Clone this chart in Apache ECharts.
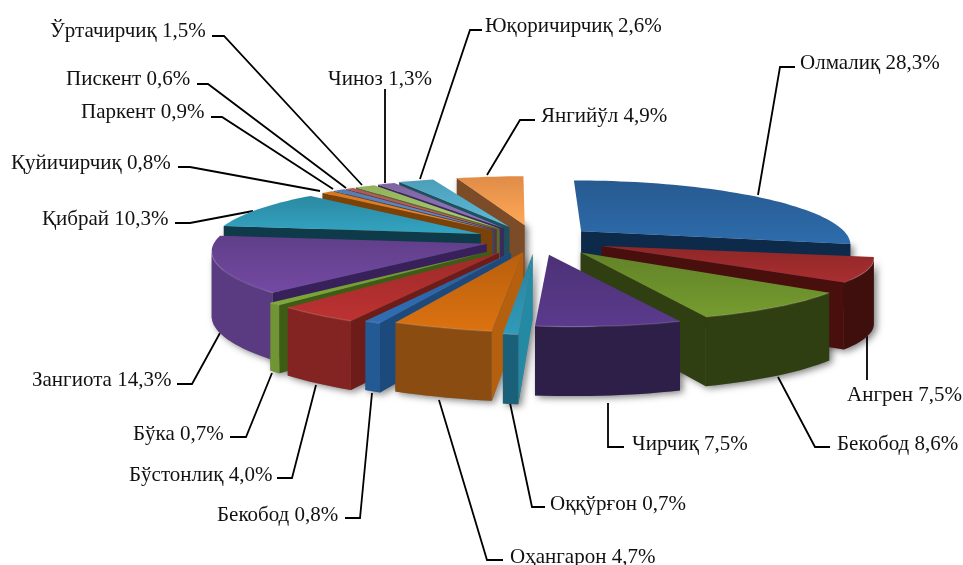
<!DOCTYPE html>
<html>
<head>
<meta charset="utf-8">
<style>
  html, body { margin: 0; padding: 0; background: #fff; }
  #chart { width: 963px; height: 565px; }
</style>
<script src="https://cdn.jsdelivr.net/npm/echarts@6/dist/echarts.min.js"></script>
</head>
<body>
<div id="chart"></div>
<script>
const districts = ["Олмалиқ", "Ангрен", "Бекобод", "Чирчиқ", "Оққўрғон", "Оҳангарон", "Бекобод", "Бўстонлиқ", "Бўка", "Зангиота", "Қибрай", "Қуйичирчиқ", "Паркент", "Пискент", "Ўртачирчиқ", "Чиноз", "Юқоричирчиқ", "Янгийўл"];
const shares = [28.3, 7.5, 8.6, 7.5, 0.7, 4.7, 0.8, 4.0, 0.7, 14.3, 10.3, 0.8, 0.9, 0.6, 1.5, 1.3, 2.6, 4.9];

// slice styling
const topColors = ["#275a90", "#8e2728", "#628228", "#4c3176", "#29819b", "#b85f0e", "#285d98", "#9e2a2a", "#698e2f", "#603e88", "#2b89a2", "#d7761a", "#567bb0", "#b05652", "#92b05d", "#7e64a0", "#4c9eb8", "#e08c48"];
const arcColors = ["#1a3a5e", "#3f0f0d", "#2f3f11", "#2d1f47", "#1a6078", "#8a4c10", "#235a94", "#832422", "#6f9632", "#5a3a80", "#164a5c", "#7a4410", "#30486a", "#6a2f2c", "#566a32", "#4a3a62", "#2a6076", "#7c4b28"];
const sideColors = ["#0e2a4a", "#480f0d", "#2f3f11", "#2d1f47", "#2489a3", "#b5600f", "#1c4a7c", "#6e1c1a", "#3f5c14", "#38205a", "#0f3a4a", "#7a4208", "#30486a", "#6a2f2c", "#566a32", "#3c2a5c", "#1f5060", "#7c4b28"];
const explode = [61, 72, 75, 66, 60, 55, 62, 68, 68, 52, 60, 60, 60, 60, 60, 60, 62, 66];
const radius = [1, 0.96, 0.97, 0.92, 1, 1, 1, 1, 1, 1, 1, 1, 1, 1, 1, 1, 1, 1];
const shear = [0, 0, 0, 0.09, 0.11, 0.11, 0.11, 0.11, 0.11, 0.11, 0.05, 0.05, 0.05, 0.05, 0.05, 0.05, 0.05, 0.01];
const squash = [0.235, 0.19, 0.197, 0.215, 0.222, 0.222, 0.222, 0.222, 0.222, 0.222, 0.235, 0.235, 0.235, 0.235, 0.235, 0.235, 0.235, 0.235];

// label x, label y, then leader line points
const labelLayout = [
  [800, 63, [758, 195], [780, 67], [795, 67]],
  [847, 395, [867, 335], [867, 380]],
  [837, 444, [778, 377], [815, 447], [830, 447]],
  [632, 444, [608, 403], [608, 447], [624, 447]],
  [550, 504, [510, 403], [532, 507], [545, 507]],
  [510, 557, [439, 400], [487, 560], [503, 560]],
  [217, 515, [372, 393], [360, 518], [345, 518]],
  [129, 475, [316, 385], [292, 478], [277, 478]],
  [133, 434, [272, 373], [246, 437], [230, 437]],
  [32, 380, [220, 333], [192, 384], [177, 384]],
  [42, 219, [253, 211], [190, 223], [175, 223]],
  [11, 163, [320, 191], [190, 167], [178, 167]],
  [81, 112, [333, 189], [222, 117], [211, 117]],
  [66, 79, [346, 188], [208, 84], [197, 84]],
  [50, 31, [362, 185], [224, 36], [212, 36]],
  [328, 79, [385, 89], [385, 183]],
  [485, 26, [420, 179], [470, 30], [482, 30]],
  [541, 116, [487, 175], [520, 120], [535, 120]]
];

const CX = 535, CY = 240, R = 270, PERSP = 0.19, WALL = 64;
const RAD = Math.PI / 180;

const total = shares.reduce((a, b) => a + b, 0);
const starts = [];
shares.reduce((acc, v, i) => { starts[i] = acc; return acc + v; }, 0);
const startAngle = i => starts[i] / total * 360;
const endAngle = i => (starts[i] + shares[i]) / total * 360;
const midAngle = i => (startAngle(i) + endAngle(i)) / 2;

// project a point of slice i on the tilted pie; r is 0..1, drop goes down the wall
function project(i, deg, r, drop) {
  const a = deg * RAD, m = midAngle(i) * RAD, e = explode[i], len = r * R * radius[i];
  const wx = Math.sin(a) * len + Math.sin(m) * e;
  const wy = -Math.cos(a) * len - Math.cos(m) * e;
  const s = 1 / (1 - PERSP * wy / R);
  return [
    CX + wx * s + shear[i] * wy,
    CY + wy * squash[i] * s + drop * (1 + (s - 1) * 0.3)
  ];
}

function arcPoints(i, from, to, drop) {
  const pts = [];
  const n = Math.max(2, Math.ceil((to - from) / 2));
  for (let k = 0; k <= n; k++) pts.push(project(i, from + (to - from) * k / n, 1, drop));
  return pts;
}

const groundShadow = { fill: "#888", shadowBlur: 7, shadowColor: "rgba(0,0,0,0.5)", shadowOffsetX: 3, shadowOffsetY: 2 };

function radialWall(i, deg, z, color) {
  const points = [project(i, deg, 0, 0), project(i, deg, 1, 0), project(i, deg, 1, WALL), project(i, deg, 0, WALL)];
  return [
    { type: "polygon", z2: 1, shape: { points }, style: groundShadow },
    { type: "polygon", z2: z, shape: { points }, style: { fill: color } }
  ];
}

// the outer wall only runs up to the point where the arc turns away on screen
function wallRange(i, from, to) {
  const pts = arcPoints(i, from, to, 0);
  const xs = pts.map(p => p[0]);
  const step = (to - from) / (pts.length - 1);
  if (midAngle(i) > 180) return [from, from + step * xs.indexOf(Math.min(...xs))];
  return [from + step * xs.indexOf(Math.max(...xs)), to];
}

function renderSlice(params, api) {
  const i = api.value(0);
  const a1 = startAngle(i), a2 = endAngle(i);
  const depth = -Math.cos(midAngle(i) * RAD);
  const z = Math.round((depth + 1) * 100) * 10 + 10;
  let children = [];

  if (Math.sin(a2 * RAD) > 0) children = children.concat(radialWall(i, a2, z + 1, sideColors[i]));
  if (Math.sin(a1 * RAD) < 0) children = children.concat(radialWall(i, a1, z + 2, sideColors[i]));

  const f1 = Math.max(a1, 85), f2 = Math.min(a2, 278);
  if (f2 > f1) {
    const [w1, w2] = wallRange(i, f1, f2);
    const upper = arcPoints(i, w1, w2, 0);
    const lower = arcPoints(i, w1, w2, WALL).reverse();
    const points = upper.concat(lower);
    children.push({ type: "polygon", z2: 1, shape: { points }, style: groundShadow });
    children.push({ type: "polygon", z2: z + 3, shape: { points }, style: { fill: arcColors[i] } });
    children.push({
      type: "polyline", z2: z + 5, shape: { points: upper },
      style: { stroke: "rgba(255,255,255,0.12)", lineWidth: 1.5, fill: null }
    });
  }

  const top = [project(i, a1, 0, 0)].concat(arcPoints(i, a1, a2, 0));
  children.push({
    type: "polygon", z2: z + 4,
    shape: { points: top },
    style: {
      fill: new echarts.graphic.LinearGradient(0, 0, 0, 1, [
        { offset: 0, color: topColors[i] },
        { offset: 1, color: echarts.color.lift(topColors[i], -0.2) }
      ])
    }
  });
  return { type: "group", children };
}

function renderLabel(params, api) {
  const i = api.value(0);
  const [x, y, ...line] = labelLayout[i];
  const text = districts[i] + " " + shares[i].toFixed(1).replace(".", ",") + "%";
  return {
    type: "group",
    children: [
      { type: "polyline", shape: { points: line }, style: { stroke: "#000", lineWidth: 1.8, fill: null } },
      { type: "text", style: { text, x, y, fill: "#111", font: '21px "Liberation Serif"', textAlign: "left", textVerticalAlign: "middle" } }
    ]
  };
}

const indices = shares.map((v, i) => [i]);
const chart = echarts.init(document.getElementById("chart"));
chart.setOption({
  animation: false,
  backgroundColor: "#fff",
  series: [
    { type: "custom", coordinateSystem: "none", renderItem: renderSlice, data: indices, silent: true, z: 2 },
    { type: "custom", coordinateSystem: "none", renderItem: renderLabel, data: indices, silent: true, z: 1 }
  ]
});
</script>
</body>
</html>
